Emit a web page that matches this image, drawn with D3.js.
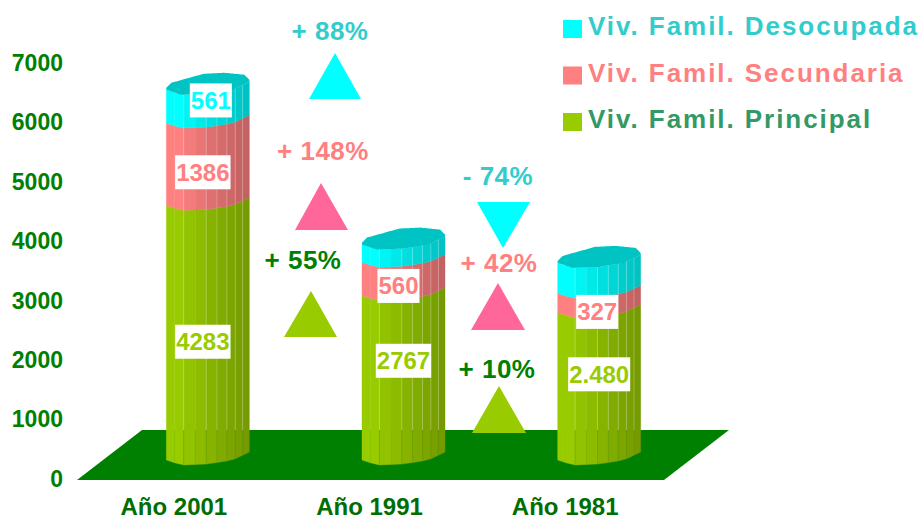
<!DOCTYPE html>
<html>
<head>
<meta charset="utf-8">
<script src="https://cdn.jsdelivr.net/npm/d3@7"></script>
<style>
html, body { margin: 0; padding: 0; background: #fff; }
svg { display: block; }
text { font-family: "Liberation Sans", Arial, sans-serif; font-weight: bold; }
</style>
</head>
<body>
<div id="container"></div>
<script>
// data
var years = ["Año 2001", "Año 1991", "Año 1981"];
var principal = [4283, 2767, 2480];
var secundaria = [1386, 560, 327];
var desocupada = [561, 298, 510];
var principalLabels = ["4283", "2767", "2.480"];
var secundariaLabels = ["1386", "560", "327"];
var desocupadaLabels = ["561", "", ""];
var seriesNames = ["Viv. Famil. Desocupada", "Viv. Famil. Secundaria", "Viv. Famil. Principal"];
var yTicks = [0, 1000, 2000, 3000, 4000, 5000, 6000, 7000];
var changes = ["+ 88%", "+ 148%", "+ 55%", "- 74%", "+ 42%", "+ 10%"];

var w = 923, h = 517;
var bodyColors = ["#00ffff", "#ff8080", "#99cc00"],
	legendColors = ["#33cccc", "#ff8080", "#339966"];

var vis = d3.select("div#container").append("svg")
	.attr("width", w)
	.attr("height", h);

var y = d3.scaleLinear().domain([0, 7000]).range([478, 62]);
var x = d3.scaleBand().domain(years).range([77, 664]);

// y axis
var yAxis = vis.append("g")
	.attr("transform", "translate(63,1)")
	.call(d3.axisLeft(y).tickValues(yTicks).tickFormat(d3.format("d")).tickSize(0).tickPadding(0));
yAxis.select(".domain").remove();
yAxis.selectAll("text").attr("fill", "#008000").style("font-size", "23px");

// floor
vis.append("polygon")
	.attr("points", "77,480 142,430 729,430 664,480")
	.attr("fill", "#008000");

// x axis
var xAxis = vis.append("g")
	.attr("transform", "translate(-1,498)")
	.call(d3.axisBottom(x).tickSize(0).tickPadding(0));
xAxis.select(".domain").remove();
xAxis.selectAll("text").attr("fill", "#006e00").style("font-size", "24px");

// cylinder shape
var barW = 83, shiftX = 33, shiftY = -13, floorY = 430;
var front = d3.scaleLinear().domain([0, 0.18, 0.5, 0.8, 1]).range([-5, 0, -1, -5, -13]);
var back = d3.scaleLinear().domain([0, 0.06, 0.45, 0.7, 0.94, 1]).range([-7, -12, -21, -22, -20, -15]);
var shade = d3.scaleLinear().domain([0, 0.15, 1]).range([0, 0, 0.8]);
var facets = [0, 0.1, 0.21, 0.35, 0.48, 0.61, 0.73, 0.83, 0.92, 1];
var seams = [0.21, 0.48, 0.61, 0.73, 0.83, 0.92];

function barLeft(year) {
	return x(year) + x.bandwidth() / 2 + shiftX - barW / 2;
}

years.forEach(function (year, i) {
	var g = vis.append("g");
	var left = barLeft(year);
	var levels = [0, principal[i], principal[i] + secundaria[i], principal[i] + secundaria[i] + desocupada[i]];
	var colors = [bodyColors[2], bodyColors[1], bodyColors[0]];

	colors.forEach(function (c, s) {
		var y0 = y(levels[s]) + shiftY, y1 = y(levels[s + 1]) + shiftY;
		d3.pairs(facets).forEach(function (p) {
			var mid = (p[0] + p[1]) / 2;
			var pts = [
				[left + p[0] * barW, y0 + front(p[0])],
				[left + p[1] * barW, y0 + front(p[1])],
				[left + p[1] * barW, y1 + front(p[1])],
				[left + p[0] * barW, y1 + front(p[0])]
			];
			g.append("path")
				.attr("d", d3.line()(pts) + "Z")
				.attr("fill", d3.color(c).darker(shade(mid)).formatHex())
				.attr("stroke", d3.color(c).darker(shade(mid)).formatHex())
				.attr("stroke-width", 0.4);
		});
	});

	// seams, fainter where the bar stands on the floor
	var bottom = y(0) + shiftY, top = y(levels[3]) + shiftY;
	seams.forEach(function (t) {
		var sx = left + t * barW;
		g.append("line")
			.attr("x1", sx).attr("x2", sx)
			.attr("y1", top + front(t)).attr("y2", floorY)
			.attr("stroke", "#fff").attr("stroke-opacity", 0.25);
		g.append("line")
			.attr("x1", sx).attr("x2", sx)
			.attr("y1", floorY).attr("y2", bottom + front(t))
			.attr("stroke", "#669900").attr("stroke-opacity", 0.3);
	});

	// top lid
	var lid = d3.area()
		.x(function (t) { return left + t * barW; })
		.y0(function (t) { return top + front(t); })
		.y1(function (t) { return top + back(t); });
	g.append("path")
		.attr("d", lid(d3.range(0, 1.0001, 0.02)))
		.attr("fill", "#00c4c4");
});

// value labels on white boxes, nudged from the middle of their segment
var labelNudge = {
	p: [[-5, 4], [0, -22], [0, -17]],
	s: [[-5, 3], [-5, 2], [-2, 4]],
	d: [[3, -11], [0, 0], [0, 0]]
};

function valueLabel(text, cx, cy, color) {
	if (!text) { return; }
	var t = vis.append("text")
		.attr("x", cx).attr("y", cy)
		.attr("text-anchor", "middle")
		.attr("dominant-baseline", "central")
		.attr("fill", color)
		.style("font-size", "24px")
		.text(text);
	var b = t.node().getBBox();
	vis.insert("rect", function () { return t.node(); })
		.attr("x", b.x - 1).attr("y", cy - 17)
		.attr("width", b.width + 2).attr("height", 34)
		.attr("fill", "#fff");
}

years.forEach(function (year, i) {
	var cx = x(year) + x.bandwidth() / 2 + shiftX;
	var p = principal[i], s = secundaria[i], d = desocupada[i];
	valueLabel(principalLabels[i], cx + labelNudge.p[i][0], y(p / 2) + shiftY + labelNudge.p[i][1], bodyColors[2]);
	valueLabel(secundariaLabels[i], cx + labelNudge.s[i][0], y(p + s / 2) + shiftY + labelNudge.s[i][1], bodyColors[1]);
	valueLabel(desocupadaLabels[i], cx + labelNudge.d[i][0], y(p + s + d / 2) + shiftY + labelNudge.d[i][1], bodyColors[0]);
});

// change annotations
var changeColors = ["#33cccc", "#ff8080", "#008000", "#33cccc", "#ff8080", "#008000"];
var triColors = ["#00ffff", "#ff6699", "#99cc00", "#00ffff", "#ff6699", "#99cc00"];
var changeText = [[330, 31], [323, 151], [303, 260], [498, 176], [499, 263], [497, 369]];
var triangles = [
	[[335, 53], [309, 99], [361, 99]],
	[[321, 183], [295, 230], [348, 230]],
	[[311, 291], [284, 337], [337, 337]],
	[[503, 248], [477, 202], [530, 202]],
	[[498, 283], [471, 330], [525, 330]],
	[[499, 386], [472, 433], [526, 433]]
];

vis.selectAll("path.tri")
	.data(triangles)
  .enter().append("path")
	.attr("class", "tri")
	.attr("d", function (d) { return d3.line()(d) + "Z"; })
	.attr("fill", function (d, i) { return triColors[i]; });

vis.selectAll("text.change")
	.data(changes)
  .enter().append("text")
	.attr("class", "change")
	.attr("x", function (d, i) { return changeText[i][0]; })
	.attr("y", function (d, i) { return changeText[i][1]; })
	.attr("text-anchor", "middle")
	.attr("dominant-baseline", "central")
	.attr("fill", function (d, i) { return changeColors[i]; })
	.style("font-size", "26px")
	.style("letter-spacing", "0.5px")
	.text(function (d) { return d; });

// legend
var legendY = d3.scalePoint().domain(seriesNames).range([29, 122]);
var legend = vis.selectAll("g.legend")
	.data(seriesNames)
  .enter().append("g")
	.attr("class", "legend")
	.attr("transform", function (d) { return "translate(0," + legendY(d) + ")"; });
legend.append("rect")
	.attr("x", 563).attr("y", -9)
	.attr("width", 19).attr("height", 18)
	.attr("fill", function (d, i) { return bodyColors[i]; });
legend.append("text")
	.attr("x", 588).attr("y", 6)
	.attr("fill", function (d, i) { return legendColors[i]; })
	.style("font-size", "26px")
	.style("letter-spacing", "1.95px")
	.text(function (d) { return d; });
</script>
</body>
</html>
